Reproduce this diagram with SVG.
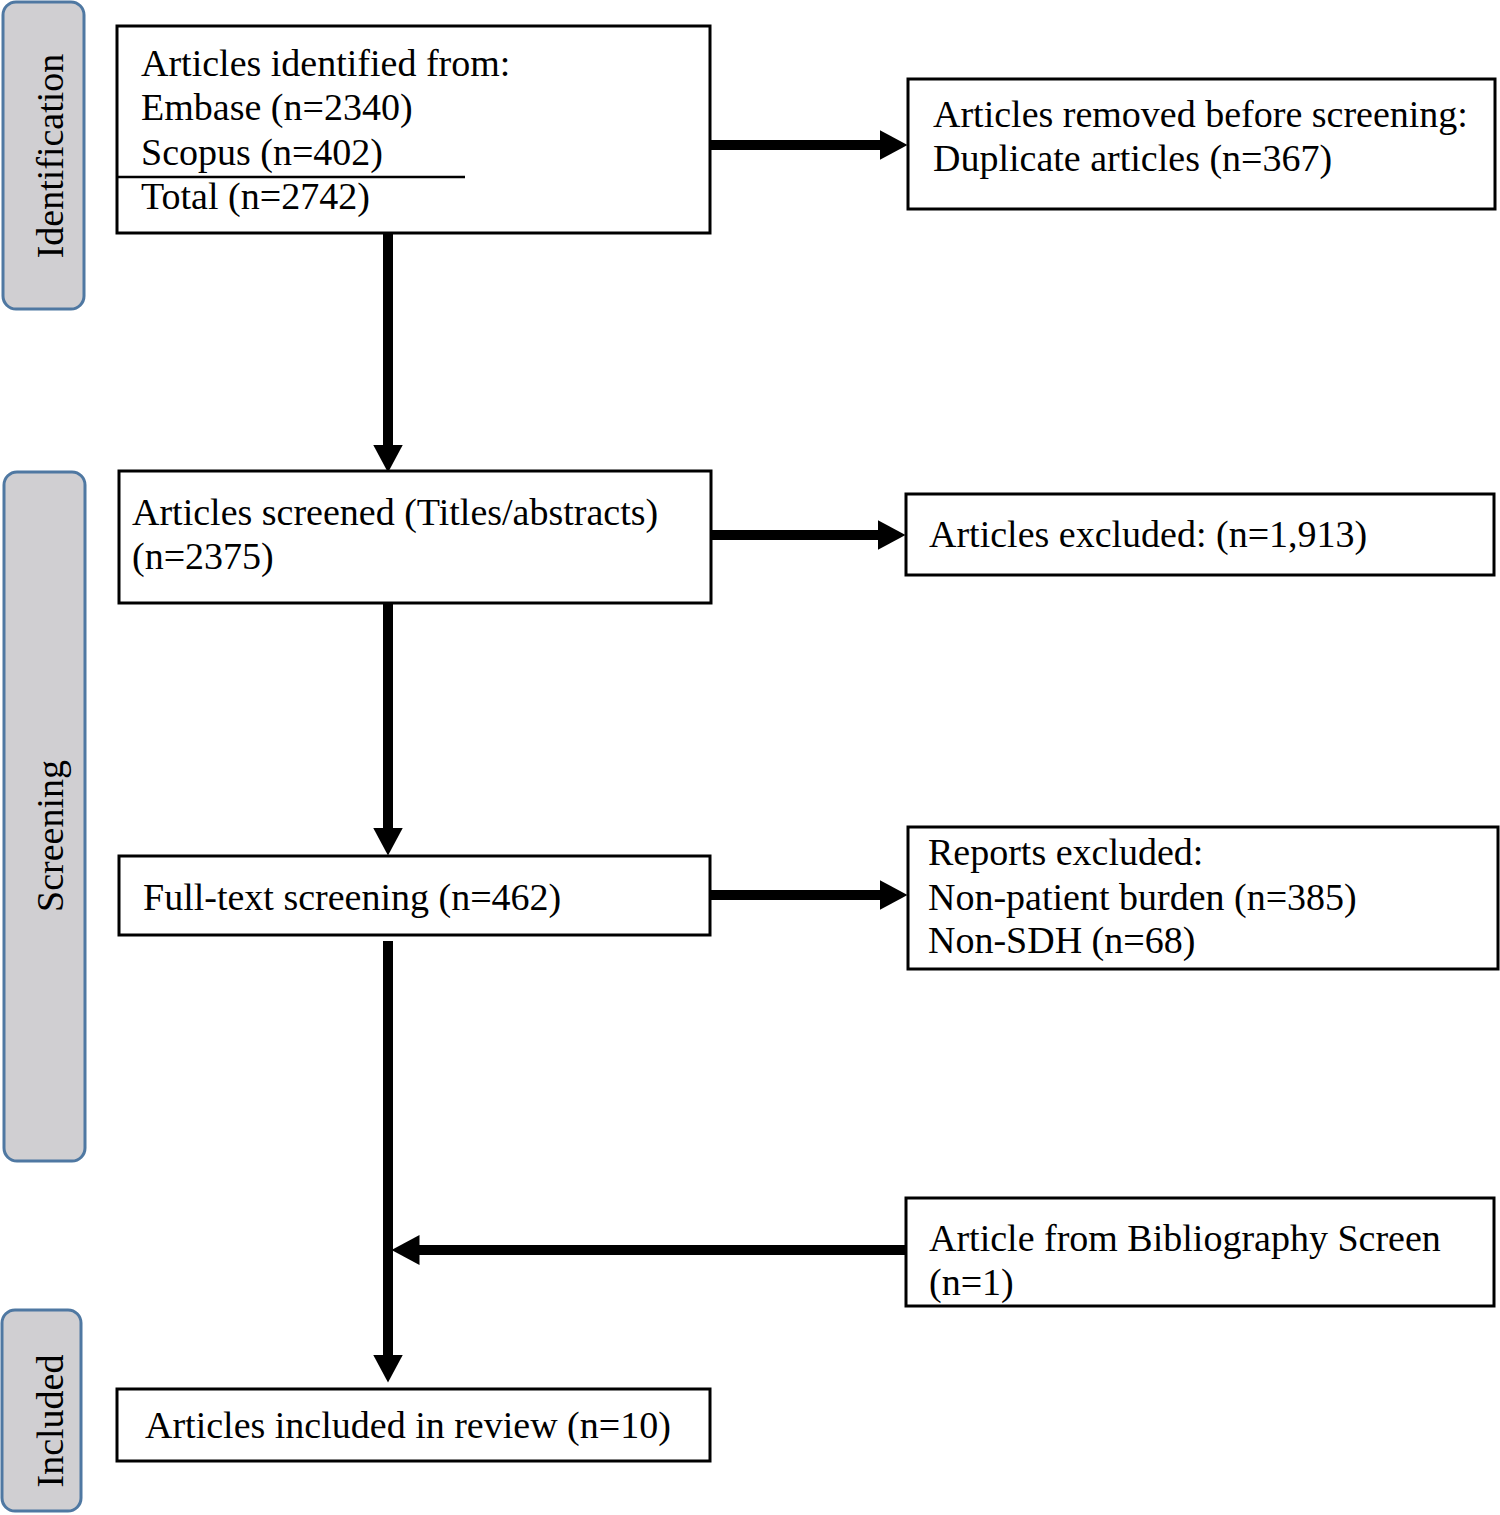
<svg xmlns="http://www.w3.org/2000/svg" width="1500" height="1515" viewBox="0 0 1500 1515">
<style>
.tab{fill:#d0cfd2;stroke:#4f78a2;stroke-width:3}
.box{fill:#fff;stroke:#000;stroke-width:3}
.t{font-family:"Liberation Serif","Times New Roman",serif;font-size:38px;fill:#000}
.tt{font-family:"Liberation Serif","Times New Roman",serif;font-size:38px;fill:#000;text-anchor:middle}
.c{stroke:#000;stroke-width:10;fill:none}
</style>
<defs>
<marker id="ah" viewBox="0 0 2.8 3" refX="0.05" refY="1.5" markerWidth="2.8" markerHeight="3" orient="auto" markerUnits="strokeWidth">
<path d="M0,0 L2.8,1.5 L0,3 z" fill="#000"/>
</marker>
</defs>
<rect width="1500" height="1515" fill="#fff"/>
<g id="tab-identification">
<rect class="tab" x="3" y="2" width="81" height="307" rx="13"/>
<text class="tt" transform="translate(63,156) rotate(-90)">Identification</text>
</g>
<g id="tab-screening">
<rect class="tab" x="4" y="472" width="81" height="689" rx="13"/>
<text class="tt" transform="translate(63,836) rotate(-90)">Screening</text>
</g>
<g id="tab-included">
<rect class="tab" x="2" y="1310" width="79" height="201" rx="13"/>
<text class="tt" transform="translate(63,1421) rotate(-90)">Included</text>
</g>
<g id="connectors">
<line class="c" x1="388" y1="233" x2="388" y2="445" marker-end="url(#ah)"/>
<line class="c" x1="710" y1="145" x2="880" y2="145" marker-end="url(#ah)"/>
<line class="c" x1="711" y1="535" x2="878" y2="535" marker-end="url(#ah)"/>
<line class="c" x1="388" y1="603" x2="388" y2="828" marker-end="url(#ah)"/>
<line class="c" x1="710" y1="895" x2="880" y2="895" marker-end="url(#ah)"/>
<line class="c" x1="388" y1="941" x2="388" y2="1355" marker-end="url(#ah)"/>
<line class="c" x1="906" y1="1250" x2="419" y2="1250" marker-end="url(#ah)"/>
</g>
<g id="identified">
<rect class="box" x="117" y="26" width="593" height="207"/>
<line x1="117" y1="177" x2="465" y2="177" stroke="#000" stroke-width="2.5"/>
<text class="t" x="141" y="76">Articles identified from:</text>
<text class="t" x="141" y="120">Embase (n=2340)</text>
<text class="t" x="141" y="165">Scopus (n=402)</text>
<text class="t" x="141" y="209">Total (n=2742)</text>
</g>
<g id="removed">
<rect class="box" x="908" y="79" width="587" height="130"/>
<text class="t" x="933" y="127">Articles removed before screening:</text>
<text class="t" x="933" y="171">Duplicate articles (n=367)</text>
</g>
<g id="screened">
<rect class="box" x="119" y="471" width="592" height="132"/>
<text class="t" x="132" y="525">Articles screened (Titles/abstracts)</text>
<text class="t" x="132" y="569">(n=2375)</text>
</g>
<g id="excluded">
<rect class="box" x="906" y="494" width="588" height="81"/>
<text class="t" x="929" y="547">Articles excluded: (n=1,913)</text>
</g>
<g id="fulltext">
<rect class="box" x="119" y="856" width="591" height="79"/>
<text class="t" x="143" y="910">Full-text screening (n=462)</text>
</g>
<g id="reports-excluded">
<rect class="box" x="908" y="827" width="590" height="142"/>
<text class="t" x="928" y="865">Reports excluded:</text>
<text class="t" x="928" y="910">Non-patient burden (n=385)</text>
<text class="t" x="928" y="953">Non-SDH (n=68)</text>
</g>
<g id="bibliography">
<rect class="box" x="906" y="1198" width="588" height="108"/>
<text class="t" x="929" y="1251">Article from Bibliography Screen</text>
<text class="t" x="929" y="1295">(n=1)</text>
</g>
<g id="included">
<rect class="box" x="117" y="1389" width="593" height="72"/>
<text class="t" x="145" y="1438">Articles included in review (n=10)</text>
</g>
</svg>
